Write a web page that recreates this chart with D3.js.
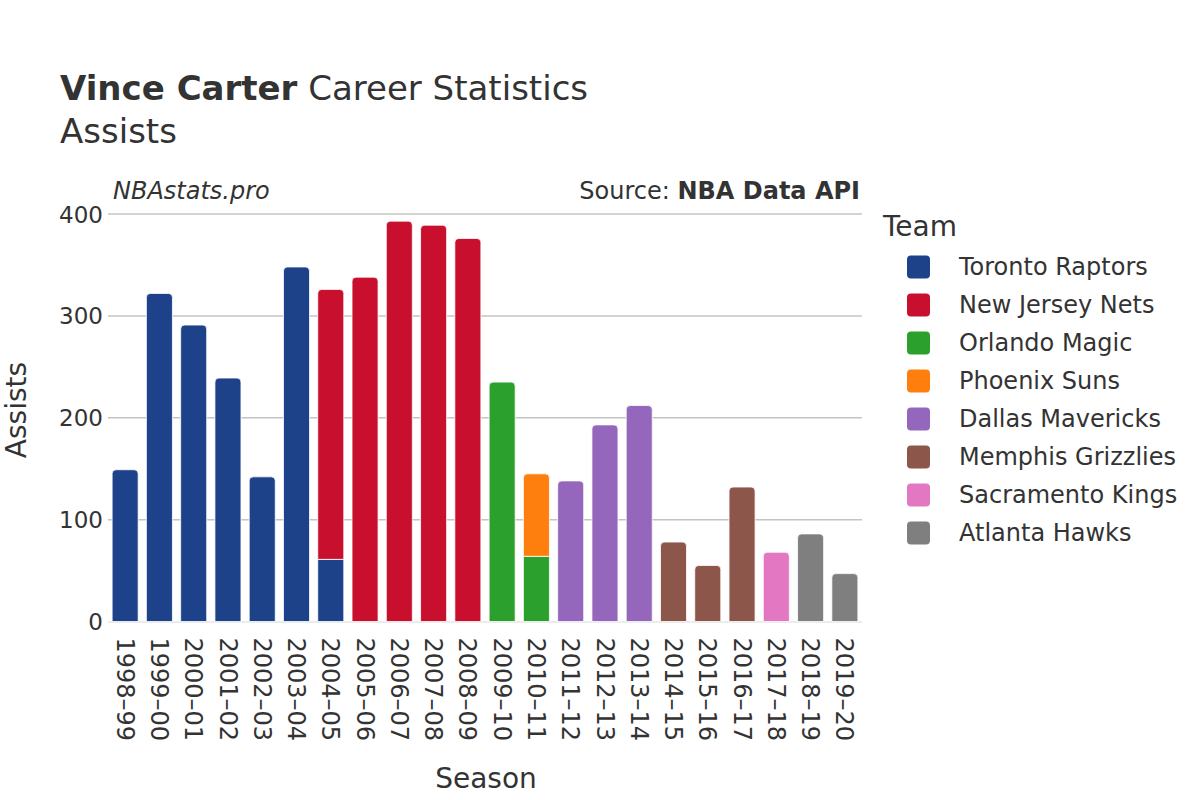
<!DOCTYPE html>
<html>
<head>
<meta charset="utf-8">
<script src="https://cdn.jsdelivr.net/npm/d3@7"></script>
<style>
  body { margin: 0; background: #fff; }
  text { font-family: "DejaVu Sans", sans-serif; fill: #333; }
</style>
</head>
<body>
<div id="chart"></div>
<script>
const seasons = ["1998–99","1999–00","2000–01","2001–02","2002–03","2003–04","2004–05","2005–06","2006–07","2007–08","2008–09","2009–10","2010–11","2011–12","2012–13","2013–14","2014–15","2015–16","2016–17","2017–18","2018–19","2019–20"];
const teams = ["Toronto Raptors","New Jersey Nets","Orlando Magic","Phoenix Suns","Dallas Mavericks","Memphis Grizzlies","Sacramento Kings","Atlanta Hawks"];
const teamColors = ["#1d428a","#c8102e","#2ca02c","#ff7f0e","#9467bd","#8c564b","#e377c2","#7f7f7f"];
// assists per season, one array per team (0 = did not play for that team)
const toronto   = [149,322,291,239,142,348,61,0,0,0,0,0,0,0,0,0,0,0,0,0,0,0];
const newJersey = [0,0,0,0,0,0,265,338,393,389,376,0,0,0,0,0,0,0,0,0,0,0];
const orlando   = [0,0,0,0,0,0,0,0,0,0,0,235,64,0,0,0,0,0,0,0,0,0];
const phoenix   = [0,0,0,0,0,0,0,0,0,0,0,0,81,0,0,0,0,0,0,0,0,0];
const dallas    = [0,0,0,0,0,0,0,0,0,0,0,0,0,138,193,212,0,0,0,0,0,0];
const memphis   = [0,0,0,0,0,0,0,0,0,0,0,0,0,0,0,0,78,55,132,0,0,0];
const sacramento= [0,0,0,0,0,0,0,0,0,0,0,0,0,0,0,0,0,0,0,68,0,0];
const atlanta   = [0,0,0,0,0,0,0,0,0,0,0,0,0,0,0,0,0,0,0,0,86,47];
const yTicks = [0,100,200,300,400];

const seriesValues = [toronto,newJersey,orlando,phoenix,dallas,memphis,sacramento,atlanta];
const rows = seasons.map((s, i) => {
  const r = { season: s };
  teams.forEach((t, k) => r[t] = seriesValues[k][i]);
  return r;
});

const w = 1200, h = 800;
const plotL = 108, plotR = 862, plotT = 214, plotB = 621.5;

const svg = d3.select("#chart").append("svg")
  .attr("width", w).attr("height", h);

const x = d3.scaleBand().domain(seasons).range([plotL, plotR])
  .paddingInner(0.24).paddingOuter(0.12);
const y = d3.scaleLinear().domain([0, 400]).range([plotB, plotT]);
const color = d3.scaleOrdinal().domain(teams).range(teamColors);

// grid
svg.append("g").selectAll("line")
  .data(yTicks.filter(d => d > 0))
  .enter().append("line")
  .attr("x1", plotL).attr("x2", plotR)
  .attr("y1", d => y(d)).attr("y2", d => y(d))
  .attr("stroke", "#c4c4c4").attr("stroke-width", 1.5);

svg.append("line")
  .attr("x1", plotL).attr("x2", plotR)
  .attr("y1", y(0) + 0.5).attr("y2", y(0) + 0.5)
  .attr("stroke", "#e6e6e6").attr("stroke-width", 1.5);

// y axis labels
const yAxis = d3.axisLeft(y).tickValues(yTicks).tickSize(0).tickPadding(5);
const yg = svg.append("g").attr("transform", "translate(" + plotL + ",0)").call(yAxis);
yg.select(".domain").remove();
yg.selectAll("text").style("font-size", "23px").attr("fill", "#333")
  .attr("dy", "0.35em");

// x axis labels
const xAxis = d3.axisBottom(x).tickSize(0);
const xg = svg.append("g").attr("transform", "translate(0," + plotB + ")").call(xAxis);
xg.select(".domain").remove();
xg.selectAll("text")
  .style("font-size", "24px").attr("fill", "#333")
  .attr("text-anchor", "start")
  .attr("dy", "0.35em")
  .attr("transform", "translate(0,16) rotate(90)")
  .attr("x", 0).attr("y", 0);

// stacked bars, top segment has rounded corners
const stacked = d3.stack().keys(teams)(rows);
const rad = 4;
function barPath(x0, y0, bw, y1, round) {
  const hgt = y0 - y1;
  if (!round) return `M${x0},${y0}V${y1}H${x0 + bw}V${y0}Z`;
  const rr = Math.min(rad, hgt / 2);
  return `M${x0},${y0}V${y1 + rr}Q${x0},${y1} ${x0 + rr},${y1}H${x0 + bw - rr}Q${x0 + bw},${y1} ${x0 + bw},${y1 + rr}V${y0}Z`;
}
const topKey = rows.map(rw => {
  let last = null;
  teams.forEach(t => { if (rw[t] > 0) last = t; });
  return last;
});

stacked.forEach(layer => {
  svg.append("g").selectAll("path")
    .data(layer.filter(d => d[1] - d[0] > 0))
    .enter().append("path")
    .attr("d", d => {
      const i = seasons.indexOf(d.data.season);
      return barPath(x(d.data.season), y(d[0]), x.bandwidth(), y(d[1]), topKey[i] === layer.key);
    })
    .attr("fill", color(layer.key))
    .attr("stroke", "#fff").attr("stroke-width", 0.8);
});

// titles
const title = svg.append("text").attr("x", 60).attr("y", 100).style("font-size", "34px");
title.append("tspan").text("Vince Carter").style("font-weight", "bold");
title.append("tspan").text(" Career Statistics");
svg.append("text").attr("x", 60).attr("y", 143).style("font-size", "34px").text("Assists");

svg.append("text").attr("x", 113).attr("y", 199)
  .style("font-size", "24px").style("font-style", "italic").text("NBAstats.pro");
const src = svg.append("text").attr("x", 860).attr("y", 199)
  .attr("text-anchor", "end").style("font-size", "24px");
src.append("tspan").text("Source: ");
src.append("tspan").text("NBA Data API").style("font-weight", "bold");

svg.append("text")
  .attr("transform", "translate(26,410) rotate(-90)")
  .attr("text-anchor", "middle").style("font-size", "28px").text("Assists");
svg.append("text").attr("x", 486).attr("y", 788)
  .attr("text-anchor", "middle").style("font-size", "28px").text("Season");

// legend
svg.append("text").attr("x", 883).attr("y", 236).style("font-size", "28px").text("Team");
const lg = svg.append("g").selectAll("g")
  .data(teams).enter().append("g")
  .attr("transform", (d, i) => "translate(907," + (267 + i * 38) + ")");
lg.append("rect")
  .attr("x", 0).attr("y", -11.5).attr("width", 23).attr("height", 23)
  .attr("rx", 4).attr("fill", d => color(d));
lg.append("text").attr("x", 52).attr("y", 0).attr("dy", "0.35em")
  .style("font-size", "24px").text(d => d);
</script>
</body>
</html>
